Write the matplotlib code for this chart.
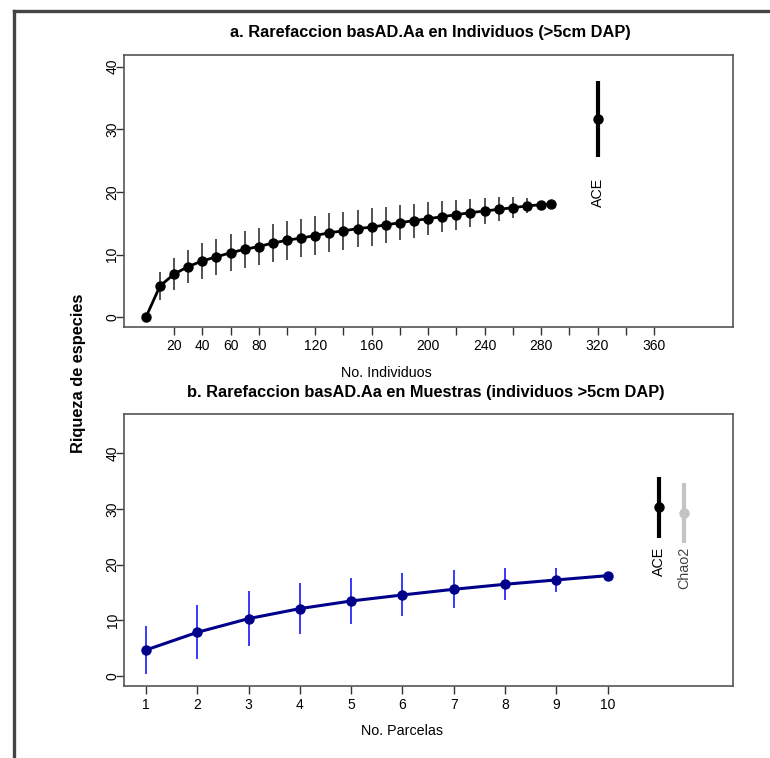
import matplotlib
matplotlib.use("Agg")
import matplotlib.pyplot as plt
from matplotlib.lines import Line2D

plt.rcParams['font.family'] = ['Liberation Sans', 'DejaVu Sans']

# individual-based rarefaction (>5cm DAP)
ind_n = [0, 10, 20, 30, 40, 50, 60, 70, 80, 90, 100, 110, 120, 130, 140, 150,
         160, 170, 180, 190, 200, 210, 220, 230, 240, 250, 260, 270, 280, 287]
ind_s = [0, 5.0, 6.9, 8.1, 9.0, 9.65, 10.3, 10.85, 11.3, 11.85, 12.3, 12.65,
         13.05, 13.5, 13.8, 14.15, 14.4, 14.75, 15.1, 15.43, 15.74, 16.06,
         16.38, 16.7, 16.97, 17.23, 17.5, 17.77, 17.98, 18.05]
ind_sd = [0, 2.3, 2.5, 2.66, 2.87, 2.87, 2.98, 3.0, 3.03, 3.09, 3.09, 3.09,
          3.1, 3.12, 3.06, 3.0, 2.98, 2.87, 2.8, 2.7, 2.6, 2.5, 2.4, 2.23,
          2.1, 1.9, 1.68, 1.2, 0.6, 0]
ind_ticks = list(range(20, 361, 20))
ind_ticklabels = ['20', '40', '60', '80', '', '120', '', '160', '', '200', '',
                  '240', '', '280', '', '320', '', '360']
ace_ind = 31.7
ace_ind_sd = 6.06

# sample-based rarefaction (plots)
plots = [1, 2, 3, 4, 5, 6, 7, 8, 9, 10]
plot_s = [4.67, 7.84, 10.3, 12.1, 13.47, 14.55, 15.57, 16.47, 17.25, 18.02]
plot_sd = [4.31, 4.88, 4.94, 4.58, 4.16, 3.86, 3.41, 2.87, 2.2, 0]
ace_plot = 30.27
ace_plot_sd = 5.42
chao2_plot = 29.34
chao2_plot_sd = 5.39

W, H = 770, 758
fig = plt.figure(figsize=(W / 100, H / 100), dpi=100)

box_col = '#555555'
tick_kw = dict(length=5.8, width=1.0, color='#333333', labelsize=10, pad=2.5)


def style_axes(ax):
    for sp in ax.spines.values():
        sp.set_color(box_col)
        sp.set_linewidth(1.2)
    ax.tick_params(axis='both', **tick_kw)
    ax.tick_params(axis='y', pad=-2.5)
    ax.set_yticks([0, 10, 20, 30, 40])
    for lab in ax.get_yticklabels():
        lab.set_rotation(90)
        lab.set_va('center')


# --- panel a ---
ax1 = fig.add_axes([124 / W, 1 - 327 / H, (733 - 124) / W, (327 - 55) / H])
ax1.errorbar(ind_n, ind_s, yerr=ind_sd, fmt='none', ecolor='#444444',
             elinewidth=1.3, capsize=0, zorder=2)
ax1.plot(ind_n, ind_s, color='black', lw=2.0, marker='o', ms=6.5, zorder=3)
ax1.errorbar([320], [ace_ind], yerr=[ace_ind_sd], fmt='o', color='black',
             ms=6.5, elinewidth=3.0, capsize=0, zorder=3)
ax1.text(320, 22.2, 'ACE', rotation=90, ha='center', va='top', fontsize=10.3)
ax1.set_xlim(-15.5, 416)
ax1.set_ylim(-1.55, 41.87)
ax1.set_xticks(ind_ticks)
ax1.set_xticklabels(ind_ticklabels)
style_axes(ax1)

# --- panel b ---
ax2 = fig.add_axes([124.3 / W, 1 - 686 / H, (732.7 - 124.3) / W, (686 - 414.3) / H])
ax2.errorbar(plots, plot_s, yerr=plot_sd, fmt='none', ecolor='#2a2aff',
             elinewidth=1.3, capsize=0, zorder=2)
ax2.plot(plots, plot_s, color='#00008b', lw=2.2, marker='o', ms=6.5, zorder=3)
ax2.errorbar([11], [ace_plot], yerr=[ace_plot_sd], fmt='o', color='black',
             ms=6.5, elinewidth=3.0, capsize=0, zorder=3)
ax2.errorbar([11.5], [chao2_plot], yerr=[chao2_plot_sd], fmt='o', color='#c4c4c4',
             ms=6.5, elinewidth=3.0, capsize=0, zorder=3)
ax2.text(11, 23.2, 'ACE', rotation=90, ha='center', va='top', fontsize=10.3)
ax2.text(11.5, 23.2, 'Chao2', rotation=90, ha='center', va='top', fontsize=10.3,
         color='#444444')
ax2.set_xlim(0.577, 12.44)
ax2.set_ylim(-1.8, 47.0)
ax2.set_xticks(plots)
style_axes(ax2)

# titles and axis labels
fig.text(430 / W, 1 - 33 / H, 'a. Rarefaccion basAD.Aa en Individuos (>5cm DAP)',
         ha='center', va='center', fontsize=11.8, fontweight='bold')
fig.text(426 / W, 1 - 392 / H,
         'b. Rarefaccion basAD.Aa en Muestras (individuos >5cm DAP)',
         ha='center', va='center', fontsize=11.8, fontweight='bold')
fig.text(386 / W, 1 - 373 / H, 'No. Individuos', ha='center', va='center',
         fontsize=10.3)
fig.text(402 / W, 1 - 731 / H, 'No. Parcelas', ha='center', va='center',
         fontsize=10.3)
fig.text(78 / W, 1 - 373 / H, 'Riqueza de especies', rotation=90,
         ha='center', va='center', fontsize=11.8, fontweight='bold')

# page border on the left and top
fig.add_artist(Line2D([13.8 / W, 13.8 / W], [0, 1 - 11.3 / H],
                      transform=fig.transFigure, color='#444444', lw=2.4))
fig.add_artist(Line2D([13.8 / W, 1], [1 - 11.3 / H, 1 - 11.3 / H],
                      transform=fig.transFigure, color='#444444', lw=2.4))

fig.savefig('out.png', dpi=100, facecolor='white')
